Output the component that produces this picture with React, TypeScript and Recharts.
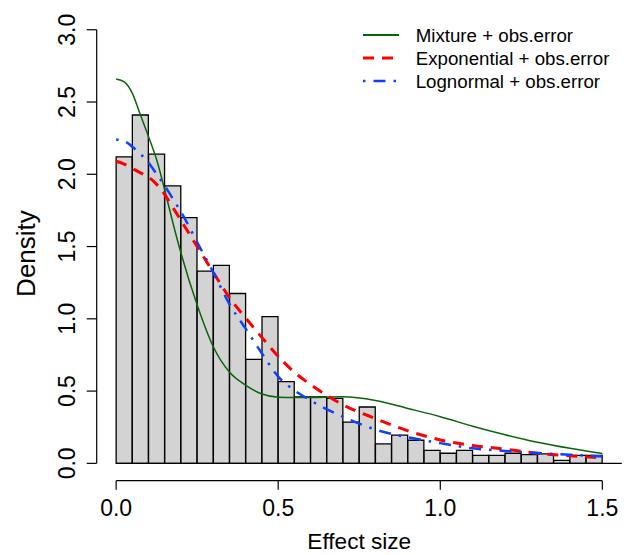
import { ComposedChart, Bar, Line, XAxis, YAxis, ReferenceLine, Legend } from 'recharts';

const FONT = '"Liberation Sans", Arial, Helvetica, sans-serif';

// histogram bins (width 0.05), mid points and heights
const binMid = [
  0.025, 0.075, 0.125, 0.175, 0.225, 0.275, 0.325, 0.375, 0.425, 0.475,
  0.525, 0.575, 0.625, 0.675, 0.725, 0.775, 0.825, 0.875, 0.925, 0.975,
  1.025, 1.075, 1.125, 1.175, 1.225, 1.275, 1.325, 1.375, 1.425, 1.475,
];
const binDensity = [
  2.12, 2.41, 2.14, 1.92, 1.70, 1.33, 1.37, 1.175, 0.72, 1.015,
  0.565, 0.46, 0.46, 0.45, 0.285, 0.39, 0.135, 0.195, 0.16, 0.09,
  0.07, 0.09, 0.055, 0.055, 0.07, 0.06, 0.065, 0.02, 0.055, 0.055,
];

// fitted density curves
const curveX = [
  0, 0.025, 0.05, 0.075, 0.1, 0.125, 0.15, 0.175, 0.2, 0.25, 0.3, 0.35, 0.4,
  0.45, 0.5, 0.55, 0.6, 0.7, 0.8, 0.9, 1.0, 1.1, 1.2, 1.3, 1.4, 1.5,
];
const mixture = [
  2.66, 2.64, 2.56, 2.41, 2.26, 2.10, 1.89, 1.665, 1.455, 1.095, 0.805, 0.63, 0.54,
  0.48, 0.458, 0.455, 0.456, 0.46, 0.435, 0.38, 0.323, 0.257, 0.198, 0.146, 0.104, 0.068,
];
const exponential = [
  2.09, 2.07, 2.04, 2.01, 1.98, 1.93, 1.86, 1.77, 1.68, 1.50, 1.32, 1.145, 1.005,
  0.87, 0.74, 0.63, 0.545, 0.405, 0.31, 0.225, 0.162, 0.124, 0.098, 0.07, 0.052, 0.038,
];
const lognormal = [
  2.24, 2.23, 2.19, 2.14, 2.08, 2.00, 1.92, 1.83, 1.74, 1.53, 1.32, 1.10, 0.93,
  0.76, 0.60, 0.505, 0.435, 0.322, 0.234, 0.18, 0.14, 0.104, 0.086, 0.071, 0.06, 0.047,
];

const xTicks = [0, 0.5, 1.0, 1.5];
const yTicks = [0, 0.5, 1.0, 1.5, 2.0, 2.5, 3.0];

const series = [
  { name: 'Mixture + obs.error', key: 'mixture', color: '#0a640a', width: 1.5, legendWidth: 2.2, dash: undefined as string | undefined },
  { name: 'Exponential + obs.error', key: 'exponential', color: '#ff0000', width: 3, legendWidth: 3, dash: '11 8' },
  { name: 'Lognormal + obs.error', key: 'lognormal', color: '#1040ff', width: 2.5, legendWidth: 2.5, dash: '2.5 8 12 8' },
];

const histData = binMid.map((mid, i) => ({ mid, density: binDensity[i] }));
const curveData = curveX.map((x, i) => ({
  x,
  mixture: mixture[i],
  exponential: exponential[i],
  lognormal: lognormal[i],
}));

const YTick = (props: any) => {
  const { x, y, payload } = props;
  return (
    <text
      transform={`translate(${x - 9.7}, ${y}) rotate(-90)`}
      textAnchor="middle"
      fontSize={23}
      fontFamily={FONT}
      fill="#000"
    >
      {Number(payload.value).toFixed(1)}
    </text>
  );
};

const XTick = (props: any) => {
  const { x, y, payload } = props;
  return (
    <text x={x} y={y + 24} textAnchor="middle" fontSize={23} fontFamily={FONT} fill="#000">
      {Number(payload.value).toFixed(1)}
    </text>
  );
};

const LegendBox = () => (
  <div style={{ fontFamily: FONT, fontSize: 18.7, color: '#000' }}>
    {series.map((s) => (
      <div key={s.key} style={{ display: 'flex', alignItems: 'center', height: 23 }}>
        <svg width={40} height={10} style={{ display: 'block' }}>
          <line
            x1={2}
            x2={38}
            y1={5}
            y2={5}
            stroke={s.color}
            strokeWidth={s.legendWidth}
            strokeDasharray={s.dash}
          />
        </svg>
        <span style={{ marginLeft: 15, whiteSpace: 'nowrap', lineHeight: '23px' }}>{s.name}</span>
      </div>
    ))}
  </div>
);

export default function App() {
  return (
    <div style={{ position: 'absolute', left: 0, top: 0, width: 629, height: 555, background: '#fff' }}>
      <ComposedChart
        width={629}
        height={555}
        data={histData}
        margin={{ top: 12.4, right: 7.2, bottom: 44.3, left: 36.7 }}
        barCategoryGap={0}
        barGap={0}
      >
        <XAxis
          xAxisId="curve"
          dataKey="x"
          type="number"
          domain={[-0.06, 1.56]}
          allowDataOverflow
          ticks={xTicks}
          tick={<XTick />}
          tickSize={9}
          tickLine={{ stroke: '#000', strokeWidth: 1.2 }}
          axisLine={false}
          height={30}
          label={(props: any) => {
            const vb = props.viewBox;
            return (
              <text
                x={vb.x + vb.width / 2}
                y={549}
                textAnchor="middle"
                fontSize={22.6}
                fontFamily={FONT}
                fill="#000"
              >
                Effect size
              </text>
            );
          }}
        />
        <XAxis
          xAxisId="bars"
          dataKey="mid"
          type="number"
          domain={[-0.06, 1.56]}
          allowDataOverflow
          hide
          height={0}
        />
        <YAxis
          type="number"
          domain={[-0.12, 3.12]}
          allowDataOverflow
          ticks={yTicks}
          tick={<YTick />}
          tickSize={10}
          tickLine={{ stroke: '#000', strokeWidth: 1.2 }}
          axisLine={false}
          width={60}
          label={(props: any) => {
            const vb = props.viewBox;
            return (
              <text
                transform={`translate(35, ${vb.y + vb.height / 2 + 7}) rotate(-90)`}
                textAnchor="middle"
                fontSize={26}
                fontFamily={FONT}
                fill="#000"
              >
                Density
              </text>
            );
          }}
        />

        {/* R style axis lines that stop at the first and last tick */}
        <ReferenceLine
          xAxisId="curve"
          segment={[{ x: -0.06, y: 0 }, { x: -0.06, y: 3 }]}
          stroke="#000"
          strokeWidth={1.2}
          ifOverflow="visible"
        />
        <ReferenceLine
          xAxisId="curve"
          segment={[{ x: 0, y: -0.12 }, { x: 1.5, y: -0.12 }]}
          stroke="#000"
          strokeWidth={1.2}
          ifOverflow="visible"
        />
        <ReferenceLine
          xAxisId="curve"
          segment={[{ x: 0, y: 0 }, { x: 1.56, y: 0 }]}
          stroke="#000"
          strokeWidth={1.2}
          ifOverflow="visible"
        />

        <Bar
          xAxisId="bars"
          dataKey="density"
          fill="#d3d3d3"
          stroke="#000"
          strokeWidth={1.3}
          isAnimationActive={false}
        />

        {series.map((s) => (
          <Line
            key={s.key}
            xAxisId="curve"
            data={curveData}
            dataKey={s.key}
            type="monotone"
            stroke={s.color}
            strokeWidth={s.width}
            strokeDasharray={s.dash}
            dot={false}
            activeDot={false}
            isAnimationActive={false}
          />
        ))}

        <Legend
          layout="vertical"
          align="center"
          verticalAlign="middle"
          content={<LegendBox />}
          wrapperStyle={{ left: 360.7, top: 23.5, width: 265, height: 70 }}
        />
      </ComposedChart>
    </div>
  );
}
